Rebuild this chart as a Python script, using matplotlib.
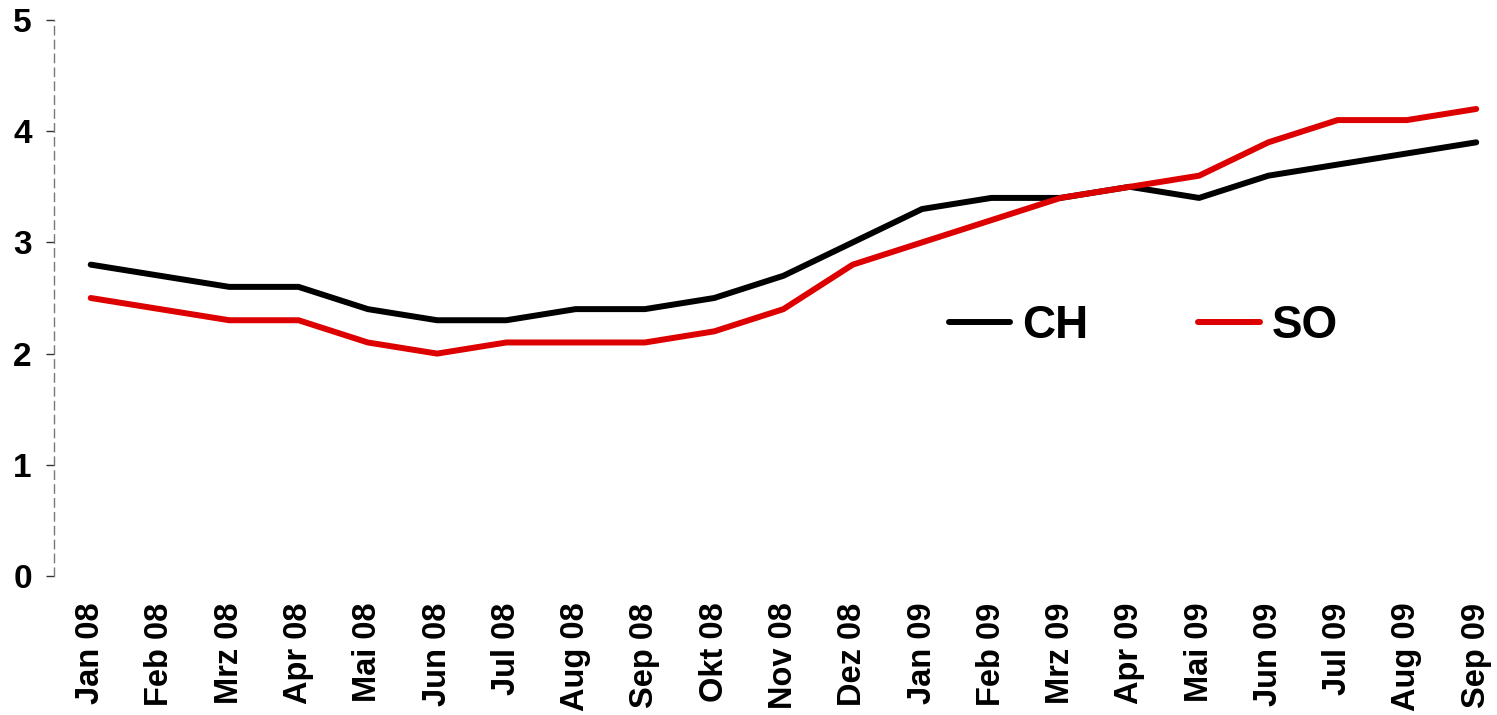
import matplotlib.pyplot as plt
import numpy as np

months = ['Jan 08', 'Feb 08', 'Mrz 08', 'Apr 08', 'Mai 08', 'Jun 08', 'Jul 08',
          'Aug 08', 'Sep 08', 'Okt 08', 'Nov 08', 'Dez 08', 'Jan 09', 'Feb 09',
          'Mrz 09', 'Apr 09', 'Mai 09', 'Jun 09', 'Jul 09', 'Aug 09', 'Sep 09']
ch = [2.8, 2.7, 2.6, 2.6, 2.4, 2.3, 2.3, 2.4, 2.4, 2.5, 2.7, 3.0, 3.3, 3.4,
      3.4, 3.5, 3.4, 3.6, 3.7, 3.8, 3.9]
so = [2.5, 2.4, 2.3, 2.3, 2.1, 2.0, 2.1, 2.1, 2.1, 2.2, 2.4, 2.8, 3.0, 3.2,
      3.4, 3.5, 3.6, 3.9, 4.1, 4.1, 4.2]

plt.rcParams['font.family'] = ['Liberation Sans', 'DejaVu Sans']
plt.rcParams['font.weight'] = 'bold'

W, H = 1497, 715
fig = plt.figure(figsize=(W / 100, H / 100), dpi=100, facecolor='white')
ax = fig.add_axes([54 / W, (H - 576) / H, 1 - 54 / W, 556 / H])

x = np.arange(len(months))
ax.plot(x, ch, color='black', lw=4.3, solid_capstyle='round', solid_joinstyle='round', label='CH')
ax.plot(x, so, color='#dd0000', lw=4.3, solid_capstyle='round', solid_joinstyle='round', label='SO')

ax.set_xlim(-0.53, 20.3)
ax.set_ylim(0, 5)
ax.set_yticks(range(6))
ax.set_xticks(x)
ax.set_xticklabels(months, rotation=90, fontsize=23.5, fontweight='bold')
ax.tick_params(axis='x', length=0, pad=19)
ax.tick_params(axis='y', length=6, width=1, color='#333333', pad=10, labelsize=24)
for lab in ax.get_yticklabels():
    lab.set_fontweight('bold')

for s in ['top', 'right', 'bottom']:
    ax.spines[s].set_visible(False)
ax.spines['left'].set_color('#777777')
ax.spines['left'].set_linewidth(1)
ax.spines['left'].set_linestyle((0, (6, 4)))

leg = ax.legend(loc='center', bbox_to_anchor=(1143 / W, 1 - 326 / H),
                bbox_transform=fig.transFigure, ncol=2, frameon=False,
                prop={'size': 33, 'weight': 'bold'}, handlelength=1.35,
                handletextpad=0.25, columnspacing=2.4)

fig.savefig('out.png', dpi=100)
